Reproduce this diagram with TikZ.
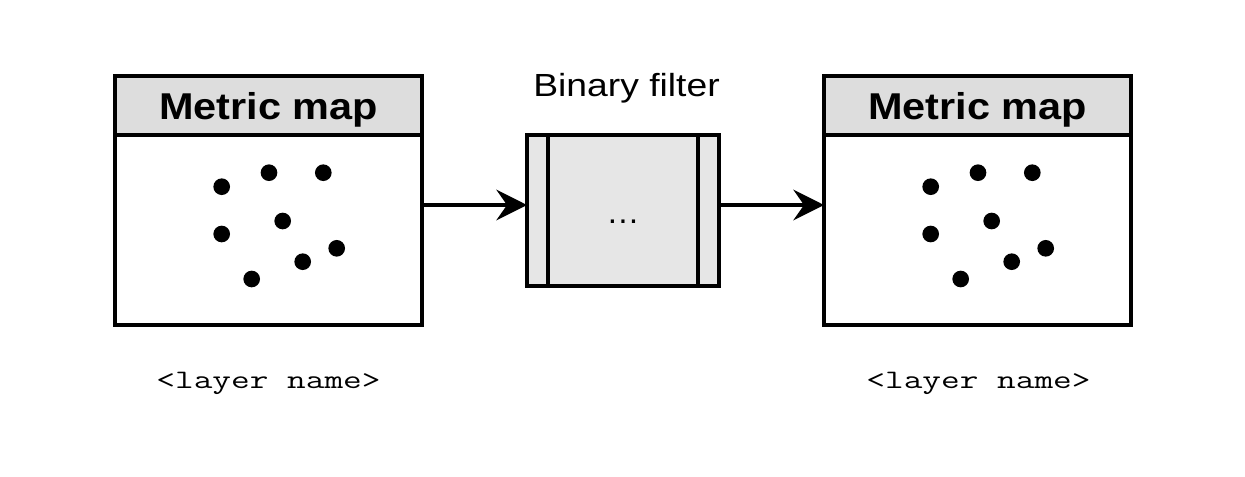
\documentclass[tikz,border=0pt]{standalone}
\usepackage{fontspec}
\usepackage{graphicx}
\setmainfont{Liberation Sans}
\usetikzlibrary{arrows.meta}
\definecolor{hdr}{HTML}{DDDDDD}
\definecolor{filt}{HTML}{E6E6E6}
\begin{document}
\begin{tikzpicture}[x=0.75pt,y=-0.75pt,
  box/.style={draw, line width=2.5pt, rectangle, inner sep=0pt, outer sep=0pt, anchor=north west},
  header/.style={box, fill=hdr, minimum width=230.25pt, minimum height=44.25pt, text depth=0pt,
    font=\bfseries\fontsize{28}{30}\selectfont},
  body/.style={box, fill=white, minimum width=230.25pt, minimum height=142.5pt},
  layername/.style={anchor=base, font=\ttfamily\fontsize{20}{22}\selectfont},
  arrow/.style={line width=2.5pt, -{Stealth[length=23pt, width=23pt, inset=8pt]}},
  dot/.style={fill=black}]
\useasboundingbox (0,0) rectangle (1245,476);

% left metric map
\node[body] (lbody) at (115,135) {};
\node[header] (lhead) at (115,76) {\scalebox{1.11}[1]{Metric map}};
% right metric map
\node[body] (rbody) at (824,135) {};
\node[header] (rhead) at (824,76) {\scalebox{1.11}[1]{Metric map}};

% binary filter
\node[box, fill=filt, minimum width=144pt, minimum height=113.25pt] (filt) at (527,135) {};
\draw[line width=2.5pt] ([xshift=15.75pt]filt.north west) -- ([xshift=15.75pt]filt.south west);
\draw[line width=2.5pt] ([xshift=-15.75pt]filt.north east) -- ([xshift=-15.75pt]filt.south east);
\node[anchor=base, font=\fontsize{25}{27}\selectfont] (dots) at (623,223) {…};
\node[anchor=base, font=\fontsize{24}{26}\selectfont] (ftitle) at (626.5,96) {\scalebox{1.165}[1]{Binary filter}};

% dots
\foreach \x/\y in {221.7/186.7, 269/172.7, 323.3/172.7, 282.7/221, 221.7/234, 336.7/248.3, 302.7/261.7, 251.7/279} {
  \fill[dot] (\x,\y) circle[radius=6.25pt];
  \fill[dot] (\x+709,\y) circle[radius=6.25pt];
}

% connectors
\draw[arrow] (lbody.east |- 0,205) -- (filt.west |- 0,205);
\draw[arrow] (filt.east |- 0,205) -- (rbody.west |- 0,205);

% layer names
\node[layername] (lname) at (268.5,388) {\scalebox{1.36}[1]{<layer name>}};
\node[layername] (rname) at (978.5,388) {\scalebox{1.36}[1]{<layer name>}};
\end{tikzpicture}
\end{document}
